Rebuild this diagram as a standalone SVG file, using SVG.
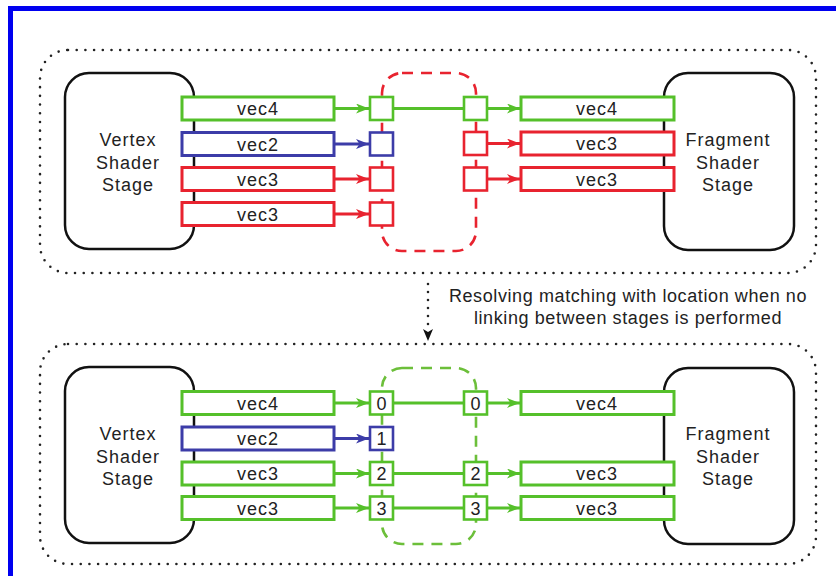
<svg xmlns="http://www.w3.org/2000/svg" width="836" height="576" viewBox="0 0 836 576">
<defs>
<style>
text{font-family:"Liberation Sans",Arial,sans-serif;fill:#222;}
.lbl{font-size:18px;letter-spacing:1px;text-anchor:middle;}
.num{font-size:18px;text-anchor:middle;}
.cap{font-size:18px;letter-spacing:0.6px;text-anchor:middle;}
.stage{fill:#fff;stroke:#111;stroke-width:2.5;}
.dots{fill:none;stroke:#222;stroke-width:2.6;stroke-linecap:round;stroke-dasharray:0 8.7;}
.g{stroke:#55c02a;}
.b{stroke:#3c3ca8;}
.r{stroke:#e8232f;}
.bar{fill:#fff;stroke-width:3;}
.sq{fill:#fff;stroke-width:2.6;}
.ln{fill:none;stroke-width:2.8;}
.dash{fill:none;stroke-width:2.6;stroke-dasharray:11 8;}
</style>
<marker id="ag" viewBox="0 0 13 10" refX="13" refY="5" markerWidth="13" markerHeight="10" markerUnits="userSpaceOnUse" orient="auto"><path d="M0,0 L13,5 L0,10 L3.5,5 z" fill="#55c02a"/></marker>
<marker id="ab" viewBox="0 0 13 10" refX="13" refY="5" markerWidth="13" markerHeight="10" markerUnits="userSpaceOnUse" orient="auto"><path d="M0,0 L13,5 L0,10 L3.5,5 z" fill="#3c3ca8"/></marker>
<marker id="ar" viewBox="0 0 13 10" refX="13" refY="5" markerWidth="13" markerHeight="10" markerUnits="userSpaceOnUse" orient="auto"><path d="M0,0 L13,5 L0,10 L3.5,5 z" fill="#e8232f"/></marker>
<marker id="ak" viewBox="0 0 10 12" refX="5" refY="12" markerWidth="10" markerHeight="12" markerUnits="userSpaceOnUse" orient="0"><path d="M0,0 L5,3 L10,0 L5,12 z" fill="#111"/></marker>
</defs>
<rect width="836" height="576" fill="#fff"/>
<rect x="10.5" y="8.5" width="900" height="700" fill="none" stroke="#0000f0" stroke-width="5"/>

<!-- containers -->
<g id="top-container"><rect class="dots" x="40" y="50" width="776" height="223" rx="28"/></g>
<g id="bottom-container"><rect class="dots" x="40" y="344" width="776" height="220" rx="28"/></g>

<!-- dashed groups -->
<g id="top-interface"><rect class="dash r" x="382" y="73" width="94" height="178" rx="20"/></g>
<g id="bottom-interface"><rect class="dash g" x="382" y="368" width="94" height="176" rx="20" style="stroke:#6cbf3a"/></g>

<!-- stages -->
<g id="vs-top"><rect class="stage" x="65" y="73" width="129" height="176" rx="24"/>
<text class="lbl" x="128" y="146">Vertex</text><text class="lbl" x="128" y="168.5">Shader</text><text class="lbl" x="128" y="191">Stage</text></g>
<g id="fs-top"><rect class="stage" x="664" y="73" width="130" height="177" rx="24"/>
<text class="lbl" x="728" y="146">Fragment</text><text class="lbl" x="728" y="168.5">Shader</text><text class="lbl" x="728" y="191">Stage</text></g>
<g id="vs-bottom"><rect class="stage" x="65" y="367" width="129" height="176" rx="24"/>
<text class="lbl" x="128" y="440">Vertex</text><text class="lbl" x="128" y="462.5">Shader</text><text class="lbl" x="128" y="485">Stage</text></g>
<g id="fs-bottom"><rect class="stage" x="664" y="368" width="130" height="176" rx="24"/>
<text class="lbl" x="728" y="440">Fragment</text><text class="lbl" x="728" y="462.5">Shader</text><text class="lbl" x="728" y="485">Stage</text></g>

<!-- connectors -->
<g id="connectors">
<line class="ln g" x1="335" y1="108.5" x2="369" y2="108.5" marker-end="url(#ag)"/>
<line class="ln b" x1="335" y1="144" x2="369" y2="144" marker-end="url(#ab)"/>
<line class="ln r" x1="335" y1="179" x2="369" y2="179" marker-end="url(#ar)"/>
<line class="ln r" x1="335" y1="214" x2="369" y2="214" marker-end="url(#ar)"/>
<line class="ln g" x1="393" y1="108.5" x2="464" y2="108.5"/>
<line class="ln g" x1="487" y1="108.5" x2="520" y2="108.5" marker-end="url(#ag)"/>
<line class="ln r" x1="487" y1="143.5" x2="520" y2="143.5" marker-end="url(#ar)"/>
<line class="ln r" x1="487" y1="179" x2="520" y2="179" marker-end="url(#ar)"/>

<line class="ln g" x1="335" y1="403" x2="369" y2="403" marker-end="url(#ag)"/>
<line class="ln b" x1="335" y1="438.5" x2="369" y2="438.5" marker-end="url(#ab)"/>
<line class="ln g" x1="335" y1="473.5" x2="369" y2="473.5" marker-end="url(#ag)"/>
<line class="ln g" x1="335" y1="508" x2="369" y2="508" marker-end="url(#ag)"/>
<line class="ln g" x1="393" y1="403" x2="464" y2="403"/>
<line class="ln g" x1="393" y1="473.5" x2="464" y2="473.5"/>
<line class="ln g" x1="393" y1="508" x2="464" y2="508"/>
<line class="ln g" x1="487" y1="403" x2="520" y2="403" marker-end="url(#ag)"/>
<line class="ln g" x1="487" y1="473.5" x2="520" y2="473.5" marker-end="url(#ag)"/>
<line class="ln g" x1="487" y1="508" x2="520" y2="508" marker-end="url(#ag)"/>

<line class="dots" x1="428" y1="284" x2="428" y2="332" style="stroke-dasharray:0 8"/>
<line x1="428" y1="340" x2="428" y2="341" stroke="none" marker-end="url(#ak)"/>
</g>

<!-- top bars -->
<g id="t-out-vec4"><rect class="bar g" x="182" y="97" width="152" height="23"/><text class="lbl" x="258" y="115">vec4</text></g>
<g id="t-out-vec2"><rect class="bar b" x="182" y="132.5" width="152" height="23"/><text class="lbl" x="258" y="150.5">vec2</text></g>
<g id="t-out-vec3a"><rect class="bar r" x="182" y="167.5" width="152" height="23"/><text class="lbl" x="258" y="185.5">vec3</text></g>
<g id="t-out-vec3b"><rect class="bar r" x="182" y="202.5" width="152" height="23"/><text class="lbl" x="258" y="220.5">vec3</text></g>
<g id="t-lsq0"><rect class="sq g" x="370" y="97" width="23" height="23"/></g>
<g id="t-lsq1"><rect class="sq b" x="370" y="132.5" width="23" height="23"/></g>
<g id="t-lsq2"><rect class="sq r" x="370" y="167.5" width="23" height="23"/></g>
<g id="t-lsq3"><rect class="sq r" x="370" y="202.5" width="23" height="23"/></g>
<g id="t-rsq0"><rect class="sq g" x="464" y="97" width="23" height="23"/></g>
<g id="t-rsq1"><rect class="sq r" x="464" y="132" width="23" height="23"/></g>
<g id="t-rsq2"><rect class="sq r" x="464" y="167.5" width="23" height="23"/></g>
<g id="t-in-vec4"><rect class="bar g" x="521" y="97" width="153" height="23"/><text class="lbl" x="597" y="115">vec4</text></g>
<g id="t-in-vec3a"><rect class="bar r" x="521" y="132" width="153" height="23"/><text class="lbl" x="597" y="150">vec3</text></g>
<g id="t-in-vec3b"><rect class="bar r" x="521" y="167.5" width="153" height="23"/><text class="lbl" x="597" y="185.5">vec3</text></g>

<!-- caption -->
<g id="caption"><text class="cap" x="628" y="302">Resolving matching with location when no</text><text class="cap" x="628" y="324">linking between stages is performed</text></g>

<!-- bottom bars -->
<g id="b-out-vec4"><rect class="bar g" x="182" y="391.5" width="152" height="23"/><text class="lbl" x="258" y="409.5">vec4</text></g>
<g id="b-out-vec2"><rect class="bar b" x="182" y="427" width="152" height="23"/><text class="lbl" x="258" y="445">vec2</text></g>
<g id="b-out-vec3a"><rect class="bar g" x="182" y="462" width="152" height="23"/><text class="lbl" x="258" y="480">vec3</text></g>
<g id="b-out-vec3b"><rect class="bar g" x="182" y="496.5" width="152" height="23"/><text class="lbl" x="258" y="514.5">vec3</text></g>
<g id="b-lsq0"><rect class="sq g" x="370" y="391.5" width="23" height="23"/><text class="num" x="381.5" y="409.5">0</text></g>
<g id="b-lsq1"><rect class="sq b" x="370" y="427" width="23" height="23"/><text class="num" x="381.5" y="445">1</text></g>
<g id="b-lsq2"><rect class="sq g" x="370" y="462" width="23" height="23"/><text class="num" x="381.5" y="480">2</text></g>
<g id="b-lsq3"><rect class="sq g" x="370" y="496.5" width="23" height="23"/><text class="num" x="381.5" y="514.5">3</text></g>
<g id="b-rsq0"><rect class="sq g" x="464" y="391.5" width="23" height="23"/><text class="num" x="475.5" y="409.5">0</text></g>
<g id="b-rsq2"><rect class="sq g" x="464" y="462" width="23" height="23"/><text class="num" x="475.5" y="480">2</text></g>
<g id="b-rsq3"><rect class="sq g" x="464" y="496.5" width="23" height="23"/><text class="num" x="475.5" y="514.5">3</text></g>
<g id="b-in-vec4"><rect class="bar g" x="521" y="391.5" width="153" height="23"/><text class="lbl" x="597" y="409.5">vec4</text></g>
<g id="b-in-vec3a"><rect class="bar g" x="521" y="462" width="153" height="23"/><text class="lbl" x="597" y="480">vec3</text></g>
<g id="b-in-vec3b"><rect class="bar g" x="521" y="496.5" width="153" height="23"/><text class="lbl" x="597" y="514.5">vec3</text></g>
</svg>
